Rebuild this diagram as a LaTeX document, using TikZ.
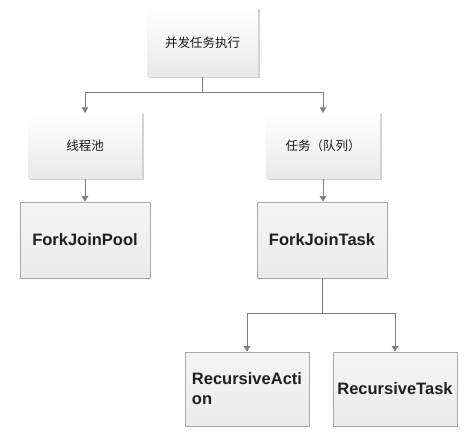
\documentclass[tikz,border=0pt]{standalone}
\usepackage{fontspec}
\setmainfont{Liberation Sans}
\newfontfamily\cjk{Noto Sans CJK SC}
\usetikzlibrary{arrows.meta,shadows,shadings}
\definecolor{linegray}{HTML}{7F7F7F}
\definecolor{boxborder}{HTML}{A8A8A8}
\tikzset{
  softbox/.style={minimum width=#1, minimum height=67pt, inner sep=0pt,
    top color=white, bottom color=black!9, draw=none,
    drop shadow={shadow xshift=1.5pt, shadow yshift=-1.5pt, opacity=0.18, fill=black},
    font=\cjk\fontsize{12.5}{14}\selectfont, text=black!90},
  hardbox/.style={minimum width=#1, minimum height=76pt, inner sep=0pt,
    top color=black!4, bottom color=black!8, draw=boxborder, line width=0.8pt,
    drop shadow={shadow xshift=1pt, shadow yshift=-1pt, opacity=0.12, fill=black},
    font=\bfseries\fontsize{16.5}{20}\selectfont, text=black!88},
  conn/.style={draw=linegray, line width=0.8pt},
  arr/.style={conn, -{Triangle[width=6.5pt,length=5.5pt]}},
}
\begin{document}
\begin{tikzpicture}[x=1pt,y=-1pt]
\useasboundingbox (0,0) rectangle (474,441);
\fill[white] (0,0) rectangle (474,441);
\node[softbox=111pt, minimum height=69pt] (top) at (202.5,42.5) {并发任务执行};
\node[softbox=114pt, minimum height=66pt] (pool) at (85,146) {线程池};
\node[softbox=114pt, minimum height=66pt] (task) at (323,146) {任务（队列）};
\node[hardbox=130pt] (fjp) at (85,240) {ForkJoinPool};
\node[hardbox=130pt] (fjt) at (322,240) {ForkJoinTask};
\node[hardbox=124pt, minimum height=74pt, align=left] (ra) at (247,389) {RecursiveActi\\on};
\node[hardbox=124pt, minimum height=74pt] (rt) at (395,389) {RecursiveTask};
\coordinate (j1) at (202.5,92);
\coordinate (j2) at (322,313);
\draw[conn] (top.south) -- (j1);
\draw[arr] (j1) -| (pool.north);
\draw[arr] (j1) -| (task.north);
\draw[arr] (pool.south) -- (pool.south |- fjp.north);
\draw[arr] (task.south) -- (task.south |- fjt.north);
\draw[conn] (fjt.south) -- (j2);
\draw[arr] (j2) -| (ra.north);
\draw[arr] (j2) -| (rt.north);
\end{tikzpicture}
\end{document}
